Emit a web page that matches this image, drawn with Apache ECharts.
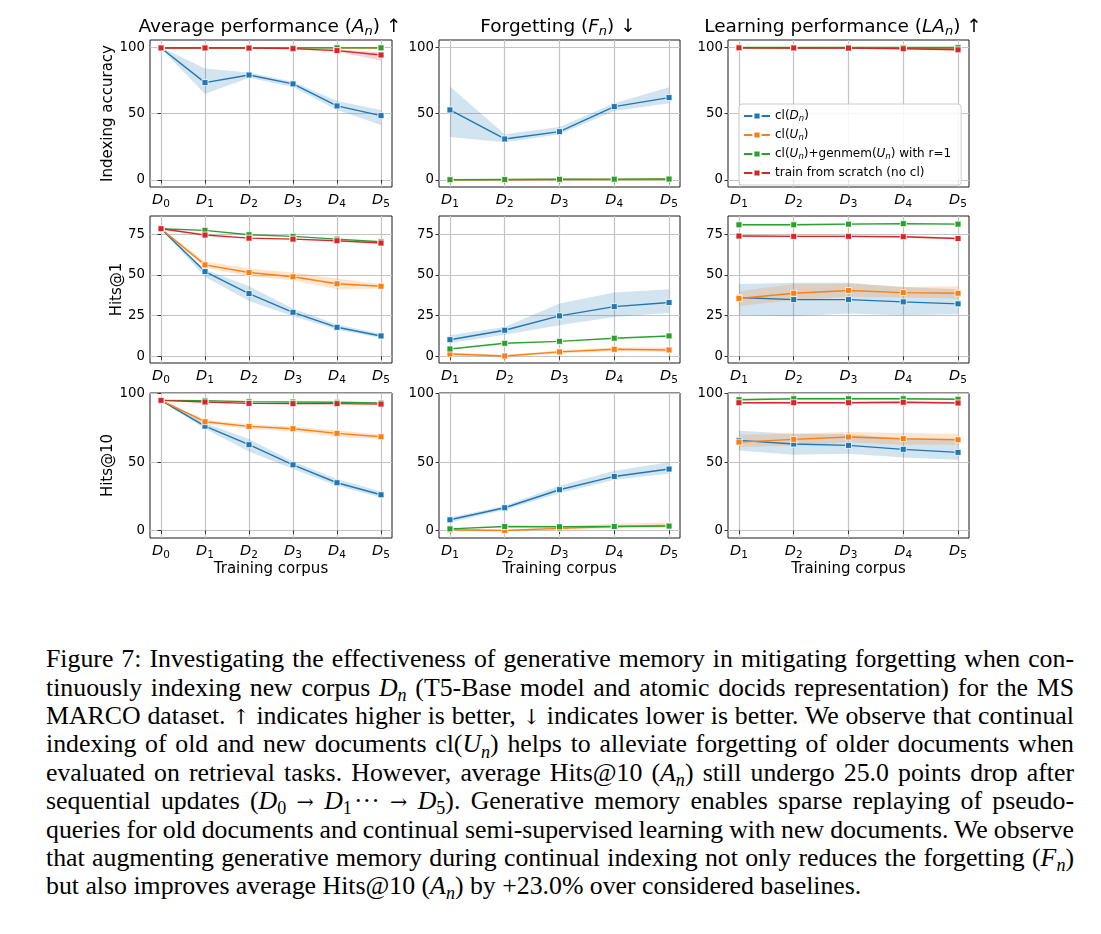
<!DOCTYPE html>
<html><head><meta charset="utf-8">
<script src="https://cdn.jsdelivr.net/npm/echarts@6/dist/echarts.min.js"></script>
<style>
html,body{margin:0;padding:0;background:#fff;width:1101px;height:934px;overflow:hidden}
#chart{position:absolute;left:0;top:0;width:1101px;height:620px}
#cap{position:absolute;left:46px;top:645.3px;width:1028px;font-family:'Liberation Serif','Times New Roman',serif;font-size:25.8px;line-height:28.4px;color:#000}
#cap .ln{white-space:nowrap;height:28.4px}
#cap .ln span.t{display:inline-block;white-space:nowrap}
.sb{font-size:70%;position:relative;top:0.28em;line-height:0}
.ar{font-family:'DejaVu Serif',serif;font-size:80%}
</style></head><body>
<div id="chart"></div>
<div id="cap">
<div class="ln"><span class="t j">Figure 7: Investigating the effectiveness of generative memory in mitigating forgetting when con-</span></div>
<div class="ln"><span class="t j">tinuously indexing new corpus <i>D</i><span class="sb"><i>n</i></span> (T5-Base model and atomic docids representation) for the MS</span></div>
<div class="ln"><span class="t j">MARCO dataset. <span class="ar">↑</span> indicates higher is better, <span class="ar">↓</span> indicates lower is better. We observe that continual</span></div>
<div class="ln"><span class="t j">indexing of old and new documents cl(<i>U</i><span class="sb"><i>n</i></span>) helps to alleviate forgetting of older documents when</span></div>
<div class="ln"><span class="t j">evaluated on retrieval tasks. However, average Hits@10 (<i>A</i><span class="sb"><i>n</i></span>) still undergo 25.0 points drop after</span></div>
<div class="ln"><span class="t j">sequential updates (<i>D</i><span class="sb">0</span> <span class="ar">→</span> <i>D</i><span class="sb">1</span>&#8202;&middot;&middot;&middot; <span class="ar">→</span> <i>D</i><span class="sb">5</span>). Generative memory enables sparse replaying of pseudo-</span></div>
<div class="ln"><span class="t j">queries for old documents and continual semi-supervised learning with new documents. We observe</span></div>
<div class="ln"><span class="t j">that augmenting generative memory during continual indexing not only reduces the forgetting (<i>F</i><span class="sb"><i>n</i></span>)</span></div>
<div class="ln"><span class="t">but also improves average Hits@10 (<i>A</i><span class="sb"><i>n</i></span>) by +23.0% over considered baselines.</span></div>
</div>
<script>
// ---------------- data ----------------
const xAll = [0, 1, 2, 3, 4, 5];
const xNew = [1, 2, 3, 4, 5];
const yTicksRow0 = [0, 50, 100];
const yTicksRow1 = [0, 25, 50, 75];
const yTicksRow2 = [0, 50, 100];

// Row 1: Indexing accuracy
const idxA_clD    = [99.5, 73.4, 79.1, 72.4, 55.8, 48.5];
const idxA_clD_lo = [99.0, 64.8, 77.0, 70.0, 52.8, 41.5];
const idxA_clD_hi = [100.0, 84.0, 81.0, 74.0, 59.5, 52.8];
const idxA_clU    = [99.6, 99.7, 99.7, 99.6, 99.6, 99.5];
const idxA_gen    = [99.6, 99.7, 99.7, 99.6, 99.6, 99.6];
const idxA_scr    = [99.5, 99.5, 99.4, 99.0, 97.5, 94.2];
const idxA_scr_lo = [99.2, 99.2, 99.1, 98.6, 96.7, 90.0];
const idxA_scr_hi = [99.8, 99.8, 99.7, 99.4, 98.5, 96.2];

const idxF_clD    = [52.8, 30.9, 36.4, 55.3, 62.1];
const idxF_clD_lo = [32.4, 28.4, 34.4, 52.0, 57.8];
const idxF_clD_hi = [70.4, 34.4, 40.0, 57.8, 69.8];
const idxF_clU    = [0.1, 0.2, 0.3, 0.4, 0.5];
const idxF_gen    = [0.2, 0.3, 0.5, 0.6, 0.7];

const idxL_clD    = [99.6, 99.6, 99.6, 99.5, 99.4];
const idxL_clU    = [99.7, 99.7, 99.6, 99.6, 99.5];
const idxL_gen    = [99.8, 99.8, 99.8, 99.8, 99.8];
const idxL_scr    = [99.6, 99.5, 99.4, 98.9, 98.1];

// Row 2: Hits@1
const h1A_clD    = [78.3, 52.0, 38.5, 27.0, 17.8, 12.5];
const h1A_clD_lo = [77.8, 48.8, 34.0, 24.6, 16.4, 11.3];
const h1A_clD_hi = [78.8, 53.3, 43.0, 29.3, 19.5, 13.9];
const h1A_clU    = [78.3, 56.1, 51.4, 48.8, 44.5, 43.0];
const h1A_clU_lo = [77.8, 54.5, 49.2, 46.7, 41.2, 41.6];
const h1A_clU_hi = [78.8, 58.2, 53.9, 51.4, 47.7, 44.3];
const h1A_gen    = [78.3, 77.3, 74.6, 73.6, 71.9, 70.3];
const h1A_scr    = [78.3, 74.4, 72.5, 71.9, 70.9, 69.5];

const h1F_clD    = [10.2, 16.0, 24.8, 30.5, 33.0];
const h1F_clD_lo = [8.2, 13.3, 19.1, 24.2, 26.6];
const h1F_clD_hi = [12.9, 18.0, 32.4, 39.1, 41.2];
const h1F_clU    = [1.4, 0.2, 2.7, 4.3, 3.9];
const h1F_clU_lo = [0.5, -0.3, 1.8, 3.2, 2.7];
const h1F_clU_hi = [2.4, 0.7, 3.7, 5.4, 5.5];
const h1F_gen    = [4.5, 8.0, 9.2, 11.1, 12.5];

const h1L_clD    = [36.1, 34.8, 34.8, 33.4, 32.2];
const h1L_clD_lo = [25.2, 24.6, 26.2, 25.2, 25.8];
const h1L_clD_hi = [44.3, 45.1, 45.1, 42.6, 41.2];
const h1L_clU    = [35.5, 38.7, 40.4, 39.1, 38.7];
const h1L_clU_lo = [30.9, 34.4, 36.5, 36.1, 35.5];
const h1L_clU_hi = [40.0, 44.3, 44.7, 42.6, 43.0];
const h1L_gen    = [80.7, 80.7, 81.1, 81.4, 81.1];
const h1L_gen_lo = [80.1, 80.1, 80.5, 80.8, 80.5];
const h1L_gen_hi = [81.3, 81.3, 81.7, 82.0, 81.7];
const h1L_scr    = [73.8, 73.6, 73.6, 73.4, 72.3];
const h1L_scr_lo = [73.2, 73.0, 73.0, 72.8, 71.7];
const h1L_scr_hi = [74.4, 74.2, 74.2, 74.0, 72.9];

// Row 3: Hits@10
const h10A_clD    = [95.1, 76.3, 62.7, 48.0, 34.9, 26.1];
const h10A_clD_lo = [94.6, 74.4, 57.8, 44.9, 32.7, 24.1];
const h10A_clD_hi = [95.6, 78.5, 66.8, 50.5, 37.6, 28.5];
const h10A_clU    = [95.1, 79.5, 76.1, 74.4, 71.0, 68.5];
const h10A_clU_lo = [94.6, 77.8, 74.4, 72.4, 68.5, 66.8];
const h10A_clU_hi = [95.6, 81.0, 77.6, 76.1, 73.2, 70.2];
const h10A_gen    = [95.1, 94.9, 94.1, 93.9, 93.7, 93.2];
const h10A_scr    = [95.1, 93.9, 92.9, 92.7, 92.7, 92.4];

const h10F_clD    = [7.8, 16.6, 29.8, 39.5, 44.9];
const h10F_clD_lo = [5.9, 15.1, 27.3, 37.1, 41.5];
const h10F_clD_hi = [9.5, 18.0, 32.7, 43.7, 49.8];
const h10F_clU    = [0.5, 0.0, 1.5, 2.9, 3.7];
const h10F_clU_lo = [0.0, -0.4, 0.5, 1.5, 2.0];
const h10F_clU_hi = [1.0, 0.4, 2.9, 4.9, 5.9];
const h10F_gen    = [1.2, 2.9, 2.7, 2.9, 3.2];

const h10L_clD    = [65.9, 63.2, 62.2, 59.3, 57.1];
const h10L_clD_lo = [58.5, 55.4, 56.1, 53.4, 51.7];
const h10L_clD_hi = [72.9, 70.7, 70.5, 66.8, 65.9];
const h10L_clU    = [64.6, 66.6, 68.3, 67.1, 66.3];
const h10L_clU_lo = [61.0, 62.0, 64.4, 62.7, 62.7];
const h10L_clU_hi = [70.0, 70.7, 72.0, 71.2, 70.5];
const h10L_gen    = [95.6, 96.3, 96.3, 96.3, 95.9];
const h10L_gen_lo = [94.9, 95.6, 95.6, 95.6, 95.2];
const h10L_gen_hi = [96.3, 97.0, 97.0, 97.0, 96.6];
const h10L_scr    = [93.4, 93.4, 93.4, 93.7, 93.2];
const h10L_scr_lo = [92.7, 92.7, 92.7, 93.0, 92.5];
const h10L_scr_hi = [94.1, 94.1, 94.1, 94.4, 93.9];

const seriesNames = ['clD', 'clU', 'gen', 'scr'];
const rowNames = ['Indexing accuracy', 'Hits@1', 'Hits@10'];

// ---------------- styling / layout ----------------
const COLORS = { clD: '#1f77b4', clU: '#ff7f0e', gen: '#2ca02c', scr: '#d62728' };
const BAND = { clD: 'rgba(31,119,180,0.2)', clU: 'rgba(255,127,14,0.2)', gen: 'rgba(44,160,44,0.2)', scr: 'rgba(214,39,40,0.2)' };
const colLeft = [150, 439, 728];
const colW = [242, 241, 241];
const rowTop = [40, 216, 393];
const rowH = [147, 147, 145];
const rowYRange = [[-5.3, 105.5], [-4.1, 86.1], [-5.5, 100.5]];
const rowYTicks = [yTicksRow0, yTicksRow1, yTicksRow2];
const rowNameGap = [34.5, 24.5, 34.5];
const FONT = 'DejaVu Sans';

const panelDefs = [
  { r: 0, c: 0, xs: xAll, s: [['clD', idxA_clD, idxA_clD_lo, idxA_clD_hi], ['clU', idxA_clU], ['gen', idxA_gen], ['scr', idxA_scr, idxA_scr_lo, idxA_scr_hi]] },
  { r: 0, c: 1, xs: xNew, s: [['clD', idxF_clD, idxF_clD_lo, idxF_clD_hi], ['clU', idxF_clU], ['gen', idxF_gen]] },
  { r: 0, c: 2, xs: xNew, s: [['clD', idxL_clD], ['clU', idxL_clU], ['gen', idxL_gen], ['scr', idxL_scr]] },
  { r: 1, c: 0, xs: xAll, s: [['clD', h1A_clD, h1A_clD_lo, h1A_clD_hi], ['clU', h1A_clU, h1A_clU_lo, h1A_clU_hi], ['gen', h1A_gen], ['scr', h1A_scr]] },
  { r: 1, c: 1, xs: xNew, s: [['clD', h1F_clD, h1F_clD_lo, h1F_clD_hi], ['clU', h1F_clU, h1F_clU_lo, h1F_clU_hi], ['gen', h1F_gen]] },
  { r: 1, c: 2, xs: xNew, s: [['clD', h1L_clD, h1L_clD_lo, h1L_clD_hi], ['clU', h1L_clU, h1L_clU_lo, h1L_clU_hi], ['gen', h1L_gen, h1L_gen_lo, h1L_gen_hi], ['scr', h1L_scr, h1L_scr_lo, h1L_scr_hi]] },
  { r: 2, c: 0, xs: xAll, s: [['clD', h10A_clD, h10A_clD_lo, h10A_clD_hi], ['clU', h10A_clU, h10A_clU_lo, h10A_clU_hi], ['gen', h10A_gen], ['scr', h10A_scr]] },
  { r: 2, c: 1, xs: xNew, s: [['clD', h10F_clD, h10F_clD_lo, h10F_clD_hi], ['clU', h10F_clU, h10F_clU_lo, h10F_clU_hi], ['gen', h10F_gen]] },
  { r: 2, c: 2, xs: xNew, s: [['clD', h10L_clD, h10L_clD_lo, h10L_clD_hi], ['clU', h10L_clU, h10L_clU_lo, h10L_clU_hi], ['gen', h10L_gen, h10L_gen_lo, h10L_gen_hi], ['scr', h10L_scr, h10L_scr_lo, h10L_scr_hi]] }
];

const xRich = {
  i: { fontFamily: FONT, fontStyle: 'italic', fontSize: 14.5, color: '#000' },
  s: { fontFamily: FONT, fontSize: 10.5, color: '#000', padding: [8, 0, 0, 0] }
};

function bandSeries(k, xs, lo, hi, color) {
  return {
    type: 'custom', xAxisIndex: k, yAxisIndex: k, silent: true, animation: false,
    data: xs.map((x, i) => [x, lo[i], hi[i]]),
    encode: { x: 0, y: [1, 2] },
    renderItem: function (params, api) {
      if (params.dataIndexInside !== 0) return null;
      const n = params.dataInsideLength;
      const up = [], dn = [];
      for (let i = 0; i < n; i++) {
        const x = api.value(0, i);
        up.push(api.coord([x, api.value(2, i)]));
        dn.unshift(api.coord([x, api.value(1, i)]));
      }
      return { type: 'polygon', shape: { points: up.concat(dn) }, style: { fill: color } };
    }
  };
}

const grids = [], xAxes = [], yAxes = [], series = [];
panelDefs.forEach((p, k) => {
  grids.push({ left: colLeft[p.c], top: rowTop[p.r], width: colW[p.c], height: rowH[p.r],
    show: true, borderColor: '#1a1a1a', borderWidth: 1, containLabel: false, outerBoundsMode: 'none' });
  xAxes.push({
    gridIndex: k, type: 'value',
    min: p.c === 0 ? -0.25 : 0.8, max: p.c === 0 ? 5.25 : 5.2,
    axisLine: { show: false },
    axisTick: { show: true, length: 3.5, lineStyle: { color: '#333' }, customValues: p.xs },
    axisLabel: { customValues: p.xs, margin: 4, formatter: v => '{i|D}{s|' + v + '}', rich: xRich, color: '#000' },
    splitLine: { show: true, lineStyle: { color: '#c4c4c4', width: 1.2 } },
    name: p.r === 2 ? 'Training corpus' : '', nameLocation: 'middle', nameGap: 21,
    nameTextStyle: { fontFamily: FONT, fontSize: 15, color: '#000' }
  });
  yAxes.push({
    gridIndex: k, type: 'value', min: rowYRange[p.r][0], max: rowYRange[p.r][1],
    axisLine: { show: false },
    axisTick: { show: true, length: 3.5, lineStyle: { color: '#333' }, customValues: rowYTicks[p.r] },
    axisLabel: { customValues: rowYTicks[p.r], margin: 5, fontFamily: FONT, fontSize: 13.3, color: '#000' },
    splitLine: { show: true, lineStyle: { color: '#c4c4c4', width: 1.2 } },
    name: p.c === 0 ? rowNames[p.r] : '', nameLocation: 'middle', nameGap: rowNameGap[p.r],
    nameTextStyle: { fontFamily: FONT, fontSize: 15, color: '#000' }
  });
  p.s.forEach(([nm, mean, lo, hi]) => {
    series.push({
      type: 'line', name: nm, xAxisIndex: k, yAxisIndex: k,
      data: p.xs.map((x, i) => [x, mean[i]]),
      symbol: 'rect', symbolSize: 6, showSymbol: true, animation: false,
      lineStyle: { width: 1.4, color: COLORS[nm] },
      itemStyle: { color: COLORS[nm], borderColor: '#fff', borderWidth: 0.8 },
      emphasis: { disabled: true }, z: 3
    });
    if (lo && hi) series.push(Object.assign(bandSeries(k, p.xs, lo, hi, BAND[nm]), { z: 3 }));
  });
});

const titleTexts = [
  'Average performance ({i|A}{s|n}) ↑',
  'Forgetting ({i|F}{s|n}) ↓',
  'Learning performance ({i|LA}{s|n}) ↑'
];
const titleCenters = [270, 558, 843];
const titleRich = {
  i: { fontFamily: FONT, fontStyle: 'italic', fontSize: 18.5, color: '#000' },
  s: { fontFamily: FONT, fontStyle: 'italic', fontSize: 13, color: '#000', padding: [9, 0, 0, 0] }
};

const legendLabels = {
  clD: 'cl({i|D}{s|n})',
  clU: 'cl({i|U}{s|n})',
  gen: 'cl({i|U}{s|n})+genmem({i|U}{s|n}) with r=1',
  scr: 'train from scratch (no cl)'
};

const chart = echarts.init(document.getElementById('chart'), null, { renderer: 'canvas' });
chart.setOption({
  backgroundColor: '#fff',
  animation: false,
  title: titleTexts.map((t, i) => ({
    text: t, left: titleCenters[i], top: 16, textAlign: 'center', padding: 0,
    textStyle: { fontFamily: FONT, fontSize: 18.5, fontWeight: 'normal', color: '#000', rich: titleRich }
  })),
  legend: {
    data: seriesNames, orient: 'vertical', left: 739, top: 104,
    padding: [5, 10, 5, 4], itemWidth: 26, itemHeight: 9, itemGap: 4.5,
    backgroundColor: 'rgba(255,255,255,0.85)', borderColor: '#cccccc', borderWidth: 1, borderRadius: 3,
    selectedMode: false,
    formatter: n => legendLabels[n],
    textStyle: { fontFamily: FONT, fontSize: 12, color: '#000', lineHeight: 14,
      rich: {
        i: { fontFamily: FONT, fontStyle: 'italic', fontSize: 12, color: '#000', lineHeight: 14 },
        s: { fontFamily: FONT, fontStyle: 'italic', fontSize: 8.5, color: '#000', padding: [6, 0, 0, 0] }
      } }
  },
  grid: grids, xAxis: xAxes, yAxis: yAxes, series: series
});

function justify() {
  document.querySelectorAll('#cap span.t.j').forEach(el => {
    el.style.wordSpacing = '0px';
    const w = el.getBoundingClientRect().width;
    const spaces = (el.textContent.match(/ /g) || []).length;
    if (spaces > 0) el.style.wordSpacing = ((1028 - w) / spaces) + 'px';
  });
}
justify();
if (document.fonts && document.fonts.ready) document.fonts.ready.then(justify);
</script>
</body></html>
